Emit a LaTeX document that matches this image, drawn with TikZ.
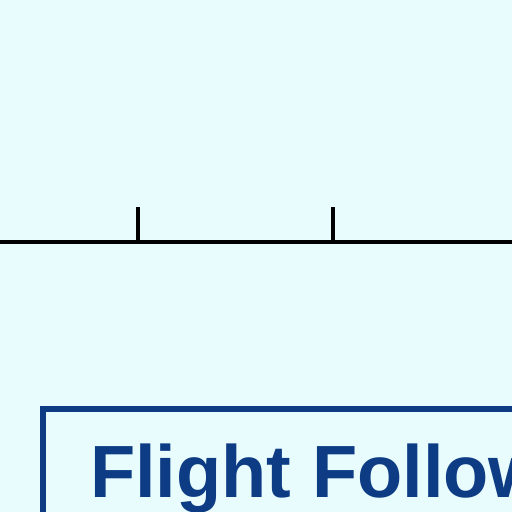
\documentclass[tikz,border=0pt]{standalone}
\usepackage{fontspec}
\setmainfont{Liberation Sans}
\definecolor{bgc}{HTML}{E8FBFD}
\definecolor{navy}{HTML}{0D3C84}
\begin{document}
\begin{tikzpicture}[x=1pt,y=-1pt,
  axis/.style={line width=4pt,black},
  tick/.style={line width=4pt,black},
  frame/.style={draw=navy,line width=6pt,fill=bgc},
  title/.style={inner sep=0pt,anchor=base west,text=navy,font=\fontsize{74}{80}\selectfont\bfseries}]
\useasboundingbox (0,0) rectangle (512,512);
\clip (0,0) rectangle (512,512);
\fill[bgc] (0,0) rectangle (512,512);
\coordinate (aL) at (-5,241.5);
\coordinate (aR) at (520,241.5);
\coordinate (t1) at (138,207);
\coordinate (t1b) at (138,241.5);
\coordinate (t2) at (333,207);
\coordinate (t2b) at (333,241.5);
\draw[axis] (aL) -- (aR);
\draw[tick] (t1) -- (t1b);
\draw[tick] (t2) -- (t2b);
\node[frame,minimum width=600pt,minimum height=300pt,anchor=north west] (box) at (40,406) {};
\node[title] (ttl) at (90,497) {Flight Follow};
\end{tikzpicture}
\end{document}
